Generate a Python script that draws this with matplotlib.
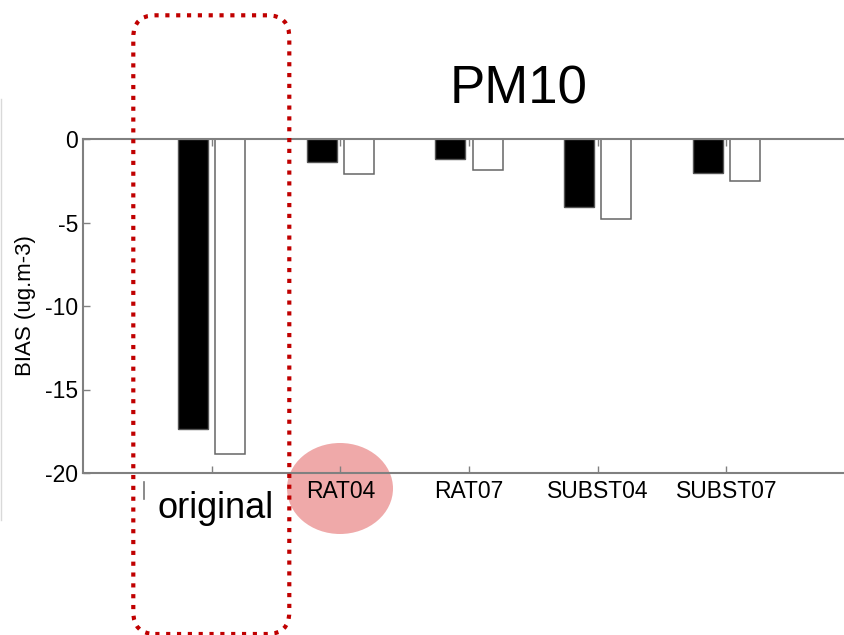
import matplotlib
matplotlib.use("Agg")
import matplotlib.pyplot as plt
import numpy as np
from matplotlib.patches import FancyBboxPatch, Ellipse
from matplotlib.lines import Line2D

categories = ['original', 'RAT04', 'RAT07', 'SUBST04', 'SUBST07']
tick_labels = ['', 'RAT04', 'RAT07', 'SUBST04', 'SUBST07']
series_black = [-17.37, -1.36, -1.20, -4.05, -2.02]
series_white = [-18.86, -2.10, -1.86, -4.81, -2.53]
yticks = [0, -5, -10, -15, -20]
title = 'PM10'
ylabel = 'BIAS (ug.m-3)'

plt.rcParams['font.family'] = ['Liberation Sans', 'DejaVu Sans']

W, H = 845, 635
fig = plt.figure(figsize=(W / 100, H / 100), dpi=100)
fig.patch.set_facecolor('white')

def px(x0, y0, x1, y1):
    return [x0 / W, 1 - y1 / H, (x1 - x0) / W, (y1 - y0) / H]

ax = fig.add_axes(px(83, 139, 855, 473))
ax.patch.set_alpha(0)

x = np.arange(1, len(categories) + 1)
bw = 0.233
off = 0.144
gray = '#808080'
ax.bar(x - off, series_black, width=bw, color='black', edgecolor='#555555', linewidth=1.0, zorder=2)
ax.bar(x + off, series_white, width=bw, color='white', edgecolor='#666666', linewidth=1.1, zorder=2)

ax.set_xlim(0, 6)
ax.set_ylim(-20, 0)
ax.set_xticks(x)
ax.set_xticklabels(tick_labels)
ax.set_yticks(yticks)
ax.set_yticklabels([str(v) for v in yticks])

for s in ax.spines.values():
    s.set_color(gray)
    s.set_linewidth(1.5)
ax.tick_params(axis='both', direction='in', length=5, width=1.0, color=gray,
               labelsize=16.5, labelcolor='black', top=True, right=True)
ax.tick_params(axis='x', pad=5)
ax.tick_params(axis='y', pad=3.5)

fig.text(519 / W, 1 - 89 / H, title, fontsize=38, ha='center', va='center')
fig.text(26 / W, 1 - 306 / H, ylabel, fontsize=16, rotation=90, ha='center', va='center')

# "original" overlay label
fig.text(216 / W, 1 - 518 / H, categories[0], fontsize=26, ha='center', va='baseline')

# faint frame line on the left
fig.add_artist(Line2D([1.5 / W, 1.5 / W], [1 - 99 / H, 1 - 520 / H], color='#d9d9d9', lw=1.0))
# small remnant mark
fig.add_artist(Line2D([144 / W, 144 / W], [1 - 482 / H, 1 - 499 / H], color='#777777', lw=1.2))

# pink ellipse highlight
ell = Ellipse((340 / 100, (H - 488.5) / 100), 106 / 100, 91 / 100,
              transform=fig.dpi_scale_trans, facecolor='#efa9a9', edgecolor='none', zorder=-1)
fig.patches.append(ell)

# red dotted rounded rectangle
box = FancyBboxPatch((133.3 / 100, (H - 634) / 100), (289.3 - 133.3) / 100, (634 - 15.3) / 100,
                     boxstyle='round,pad=0,rounding_size=0.22',
                     transform=fig.dpi_scale_trans, facecolor='none', edgecolor='#c00000',
                     linewidth=3.0, linestyle=(0, (1, 1.6)), zorder=10)
box.set_capstyle('butt')
fig.patches.append(box)

fig.savefig('out.png', dpi=100)
